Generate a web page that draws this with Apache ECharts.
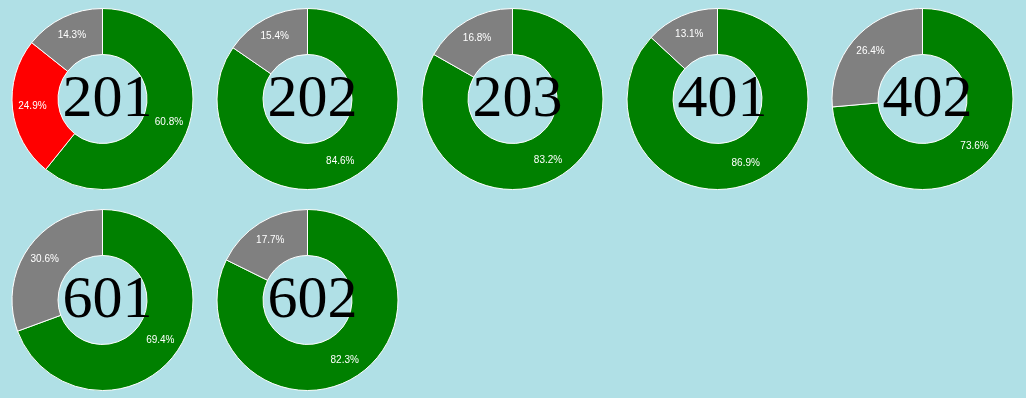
<!DOCTYPE html>
<html>
<head>
<meta charset="utf-8">
<script src="https://cdn.jsdelivr.net/npm/echarts@6/dist/echarts.min.js"></script>
<style>
  html, body { margin: 0; padding: 0; background: #b0e0e6; }
  #chart { width: 1026px; height: 398px; }
</style>
</head>
<body>
<div id="chart"></div>
<script>
const rooms = ['201', '202', '203', '401', '402', '601', '602']
const greenVals = [60.8, 84.6, 83.2, 86.9, 73.6, 69.4, 82.3]
const redVals = [24.9, 0, 0, 0, 0, 0, 0]
const grayVals = [14.3, 15.4, 16.8, 13.1, 26.4, 30.6, 17.7]

const perRow = 5
const cellW = 205
const cellH = 201

const chart = echarts.init(document.getElementById('chart'))

const series = []
const titles = []
rooms.forEach((room, i) => {
  const cx = 102.5 + (i % perRow) * cellW
  const cy = 99 + Math.floor(i / perRow) * cellH
  const data = [
    { value: greenVals[i], name: 'green', itemStyle: { color: '#008000' } },
    { value: redVals[i], name: 'red', itemStyle: { color: '#ff0000' } },
    { value: grayVals[i], name: 'gray', itemStyle: { color: '#808080' } }
  ].filter(d => d.value > 0)
  series.push({
    type: 'pie',
    center: [cx, cy],
    radius: [44.5, 90.5],
    startAngle: 90,
    silent: true,
    itemStyle: { borderColor: '#fff', borderWidth: 1 },
    label: {
      show: true,
      position: 'inside',
      color: '#fff',
      fontSize: 10,
      fontFamily: 'Liberation Sans',
      formatter: p => p.value.toFixed(1) + '%'
    },
    labelLine: { show: false },
    data: data
  })
  titles.push({
    text: room,
    left: cx,
    top: cy - 4,
    textAlign: 'center',
    textVerticalAlign: 'middle',
    textStyle: {
      fontFamily: 'Liberation Serif',
      fontWeight: 'normal',
      fontSize: 60,
      color: '#000'
    }
  })
})

chart.setOption({
  backgroundColor: '#b0e0e6',
  animation: false,
  title: titles,
  series: series
})
</script>
</body>
</html>
